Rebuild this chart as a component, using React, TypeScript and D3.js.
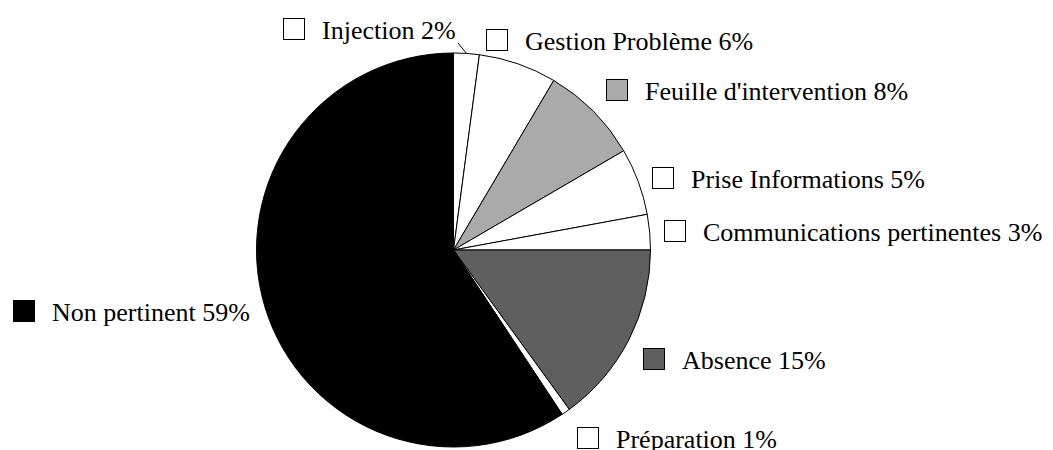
import React from "react";
import * as d3 from "d3";

const categories = [
  "Injection",
  "Gestion Problème",
  "Feuille d'intervention",
  "Prise Informations",
  "Communications pertinentes",
  "Absence",
  "Préparation",
  "Non pertinent",
];
const values = [2.1, 6.4, 8.1, 5.5, 2.9, 15.0, 0.7, 59.3];
const labels = ["2%", "6%", "8%", "5%", "3%", "15%", "1%", "59%"];
const colors = ["#ffffff", "#ffffff", "#aaaaaa", "#ffffff", "#ffffff", "#5f5f5f", "#ffffff", "#000000"];

// legend square top-left position for each label (layout, not data)
const labelBoxes: [number, number][] = [
  [283, 18],
  [486, 29],
  [606, 79],
  [652, 167],
  [664, 220],
  [643, 348],
  [577, 427],
  [13, 300],
];

const W = 1053;
const H = 450;
const cx = 453.5;
const cy = 250;
const R = 197;

export default function App() {
  const data = categories.map((c, i) => ({ c, v: values[i], l: labels[i], col: colors[i] }));
  const pie = d3.pie<any>().sort(null).value((d) => d.v).startAngle(0).endAngle(2 * Math.PI);
  const arcs = pie(data);
  const arc = d3.arc<any>().innerRadius(0).outerRadius(R);
  const sq = 22;
  const fs = 26;

  // leader line for first slice
  const a0 = arcs[0];
  const midA = (a0.startAngle + a0.endAngle) / 2;
  const rimX = cx + R * Math.sin(midA);
  const rimY = cy - R * Math.cos(midA);

  return (
    <svg width={W} height={H} style={{ position: "absolute", left: 0, top: 0 }}>
      <rect width={W} height={H} fill="#fff" />
      <g transform={`translate(${cx},${cy})`}>
        {arcs.map((a, i) => (
          <path key={i} d={arc(a) as string} fill={a.data.col} stroke="#000" strokeWidth={1} />
        ))}
      </g>
      <line x1={rimX} y1={rimY} x2={458} y2={43} stroke="#000" strokeWidth={1} />
      {data.map((d, i) => {
        const [x, y] = labelBoxes[i];
        return (
          <g key={i}>
            <rect x={x + 0.5} y={y + 0.5} width={sq - 1} height={sq - 1} fill={d.col} stroke="#000" strokeWidth={1} />
            <text
              x={x + sq + 17}
              y={y + sq - 1.5}
              fontFamily="'Liberation Serif', 'Times New Roman', serif"
              fontSize={fs}
              fill="#000"
            >
              {`${d.c} ${d.l}`}
            </text>
          </g>
        );
      })}
    </svg>
  );
}
